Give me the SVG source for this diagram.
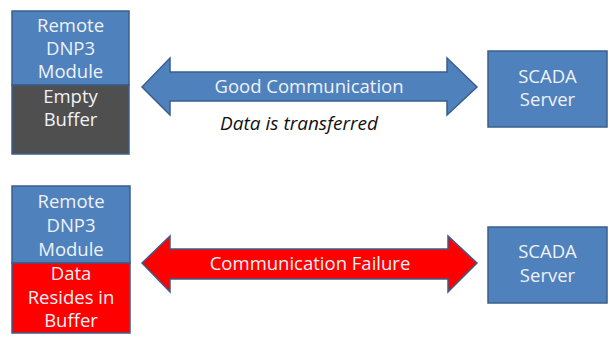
<svg xmlns="http://www.w3.org/2000/svg" width="613" height="345" viewBox="0 0 613 345">
  <style>
    .box { stroke: #3a5f8c; stroke-width: 1.5; }
    .blue { fill: #4f81bd; }
    .gray { fill: #4f4f4f; }
    .red { fill: #ff0000; }
    .lbl { font-family: "Open Sans", "Liberation Sans", sans-serif; font-size: 18.5px; fill: #eef2f8; text-anchor: middle; }
    .note { font-family: "Open Sans", "Liberation Sans", sans-serif; font-size: 19px; font-style: italic; fill: #111; text-anchor: middle; }
    .arrow { stroke: #3a5f8c; stroke-width: 1.5; stroke-linejoin: miter; }
  </style>
  <rect width="613" height="345" fill="#ffffff"/>

  <!-- top row: good link -->
  <g id="module-top">
    <rect class="box blue" x="12" y="11" width="117" height="74"/>
    <rect class="box gray" x="12" y="85" width="117" height="69"/>
    <text class="lbl" x="70.5" y="32">Remote</text>
    <text class="lbl" x="70.5" y="55">DNP3</text>
    <text class="lbl" x="70.5" y="78">Module</text>
    <text class="lbl" x="70.5" y="103">Empty</text>
    <text class="lbl" x="70.5" y="126">Buffer</text>
  </g>
  <g id="scada-top">
    <rect class="box blue" x="488" y="51" width="119" height="76"/>
    <text class="lbl" x="547.5" y="83">SCADA</text>
    <text class="lbl" x="547.5" y="106">Server</text>
  </g>

  <!-- bottom row: failed link -->
  <g id="module-bottom">
    <rect class="box blue" x="12" y="186" width="118" height="77"/>
    <rect class="box red" x="12" y="263" width="118" height="70"/>
    <text class="lbl" x="71" y="208">Remote</text>
    <text class="lbl" x="71" y="232">DNP3</text>
    <text class="lbl" x="71" y="256">Module</text>
    <text class="lbl" x="71" y="280">Data</text>
    <text class="lbl" x="71" y="304">Resides in</text>
    <text class="lbl" x="71" y="327">Buffer</text>
  </g>
  <g id="scada-bottom">
    <rect class="box blue" x="488" y="227" width="119" height="76"/>
    <text class="lbl" x="547.5" y="258">SCADA</text>
    <text class="lbl" x="547.5" y="282">Server</text>
  </g>

  <g id="connectors">
    <path class="arrow blue" d="M142,87 L170,58 L170,72 L447,72 L447,58 L477,87 L447,115 L447,101 L170,101 L170,115 Z"/>
    <text class="lbl" x="309" y="93">Good Communication</text>
    <text class="note" x="299" y="130">Data is transferred</text>

    <path class="arrow red" d="M142,263 L170,236 L170,249 L448,249 L448,236 L477,263 L448,292 L448,279 L170,279 L170,292 Z"/>
    <text class="lbl" x="310" y="270">Communication Failure</text>
  </g>
</svg>
